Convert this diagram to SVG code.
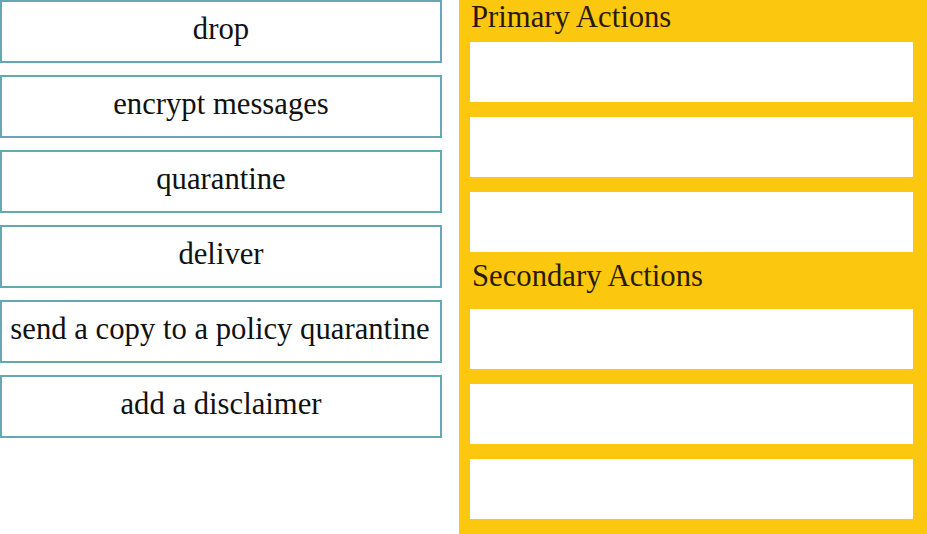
<svg xmlns="http://www.w3.org/2000/svg" width="927" height="534" viewBox="0 0 927 534">
<style>
.opt{fill:#ffffff;stroke:#62a9b1;stroke-width:2}
.slot{fill:#ffffff}
.t{font-family:'Liberation Serif',serif;font-size:30.7px;fill:#111111}
.h{font-family:'Liberation Serif',serif;font-size:30.7px;fill:#2a1a05}
</style>
<rect width="927" height="534" fill="#ffffff"/>
<g id="options">
<g id="opt-drop"><rect class="opt" x="1" y="1" width="440" height="61"/><text class="t" x="221" y="39" text-anchor="middle">drop</text></g>
<g id="opt-encrypt"><rect class="opt" x="1" y="76" width="440" height="61"/><text class="t" x="221" y="114" text-anchor="middle">encrypt messages</text></g>
<g id="opt-quarantine"><rect class="opt" x="1" y="151" width="440" height="61"/><text class="t" x="221" y="189" text-anchor="middle">quarantine</text></g>
<g id="opt-deliver"><rect class="opt" x="1" y="226" width="440" height="61"/><text class="t" x="221" y="264" text-anchor="middle">deliver</text></g>
<g id="opt-copy"><rect class="opt" x="1" y="301" width="440" height="61"/><text class="t" x="220" y="339" text-anchor="middle">send a copy to a policy quarantine</text></g>
<g id="opt-disclaimer"><rect class="opt" x="1" y="376" width="440" height="61"/><text class="t" x="221" y="414" text-anchor="middle">add a disclaimer</text></g>
</g>
<g id="panel">
<rect x="459" y="0" width="468" height="534" fill="#fcc70f"/>
<text class="h" x="471" y="27">Primary Actions</text>
<rect class="slot" x="470" y="42" width="443" height="60"/>
<rect class="slot" x="470" y="117" width="443" height="60"/>
<rect class="slot" x="470" y="192" width="443" height="60"/>
<text class="h" x="472" y="286">Secondary Actions</text>
<rect class="slot" x="470" y="309" width="443" height="60"/>
<rect class="slot" x="470" y="384" width="443" height="60"/>
<rect class="slot" x="470" y="459" width="443" height="60"/>
</g>
</svg>
